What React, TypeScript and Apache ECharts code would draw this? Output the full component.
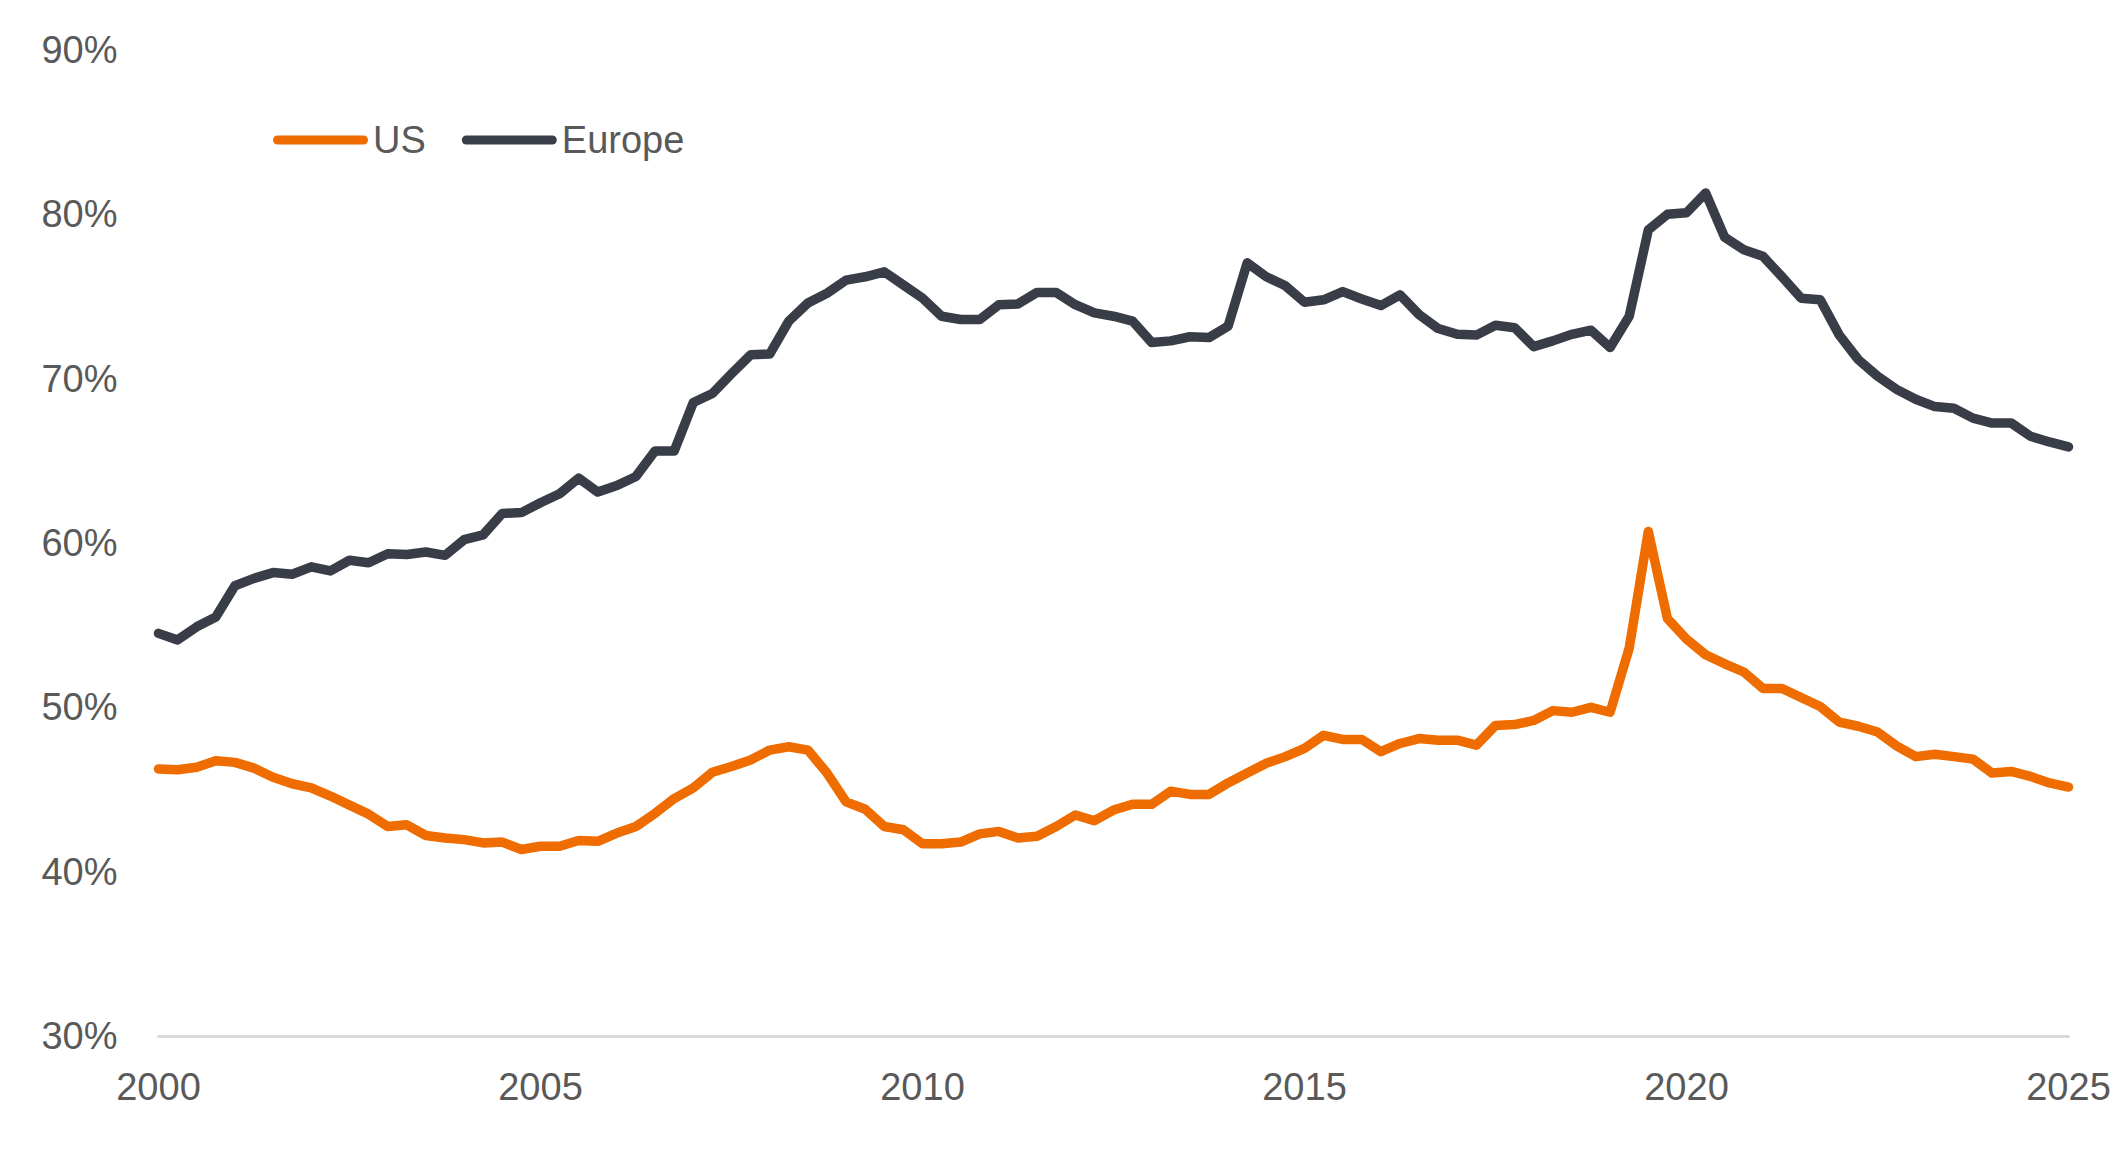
import React, { useEffect, useRef } from "react";
import * as echarts from "echarts";

// Quarterly observations, 2000 Q1 .. 2025 Q1
const START_YEAR = 2000;
const PERIODS_PER_YEAR = 4;

const usValues = [
  46.25, 46.2, 46.35, 46.75, 46.65, 46.3, 45.75, 45.35, 45.1, 44.6,
  44.05, 43.5, 42.75, 42.85, 42.2, 42.05, 41.95, 41.75, 41.8, 41.35,
  41.55, 41.55, 41.9, 41.85, 42.35, 42.75, 43.55, 44.45, 45.1, 46.05,
  46.4, 46.8, 47.4, 47.6, 47.4, 46.0, 44.25, 43.8, 42.75, 42.55,
  41.7, 41.7, 41.8, 42.3, 42.45, 42.05, 42.15, 42.75, 43.45, 43.1,
  43.75, 44.1, 44.1, 44.9, 44.7, 44.7, 45.4, 46.0, 46.6, 47.0,
  47.5, 48.3, 48.05, 48.05, 47.3, 47.8, 48.1, 48.0, 48.0, 47.7,
  48.9, 48.95, 49.2, 49.8, 49.7, 50.0, 49.7, 53.6, 60.7, 55.4,
  54.15, 53.2, 52.65, 52.15, 51.15, 51.15, 50.6, 50.05, 49.1, 48.85,
  48.5, 47.65, 47.0, 47.15, 47.0, 46.85, 46.0, 46.1, 45.8, 45.4,
  45.15,
];

const europeValues = [
  54.5, 54.1, 54.9, 55.5, 57.4, 57.85, 58.2, 58.1, 58.55, 58.3,
  58.95, 58.8, 59.35, 59.3, 59.45, 59.25, 60.2, 60.5, 61.8, 61.85,
  62.45, 63.0, 63.95, 63.1, 63.5, 64.05, 65.6, 65.6, 68.55, 69.1,
  70.3, 71.45, 71.5, 73.5, 74.6, 75.2, 76.0, 76.2, 76.5, 75.7,
  74.9, 73.8, 73.6, 73.6, 74.5, 74.55, 75.25, 75.25, 74.5, 74.0,
  73.8, 73.5, 72.2, 72.3, 72.55, 72.5, 73.2, 77.05, 76.2, 75.65,
  74.65, 74.8, 75.3, 74.85, 74.45, 75.1, 73.9, 73.05, 72.7, 72.65,
  73.25, 73.1, 71.95, 72.3, 72.7, 72.95, 71.9, 73.8, 79.05, 80.0,
  80.1, 81.3, 78.6, 77.85, 77.45, 76.2, 74.9, 74.8, 72.65, 71.15,
  70.15, 69.35, 68.75, 68.3, 68.2, 67.6, 67.3, 67.3, 66.5, 66.15,
  65.85,
];

const seriesNames = ["US", "Europe"];
const xTicks = [2000, 2005, 2010, 2015, 2020, 2025];
const yTicks = [30, 40, 50, 60, 70, 80, 90];

const US_COLOR = "#EF6C00";
const EU_COLOR = "#393D47";
const TEXT_COLOR = "#595959";
const FONT = "'Liberation Sans', Arial, Helvetica, sans-serif";
const FONT_SIZE = 38;

const toPairs = (vals: number[]) =>
  vals.map((v, i) => [START_YEAR + i / PERIODS_PER_YEAR, v]);

const pillIcon =
  "path://M4.5,0 L90.5,0 A4.5,4.5 0 0 1 90.5,9 L4.5,9 A4.5,4.5 0 0 1 4.5,0 Z";

export default function App() {
  const ref = useRef<HTMLDivElement>(null);

  useEffect(() => {
    if (!ref.current) return;
    const chart = echarts.init(ref.current, undefined, { renderer: "svg" });
    chart.setOption({
      animation: false,
      backgroundColor: "#ffffff",
      textStyle: { fontFamily: FONT },
      legend: {
        data: seriesNames,
        left: 268,
        top: 116,
        itemWidth: 95,
        itemHeight: 9,
        itemGap: 36,
        icon: pillIcon,
        textStyle: { color: TEXT_COLOR, fontSize: FONT_SIZE, fontFamily: FONT },
      },
      grid: {
        left: 158.5,
        right: 55.5,
        top: 50,
        bottom: 119,
        containLabel: false,
      },
      xAxis: {
        type: "value",
        min: xTicks[0],
        max: xTicks[xTicks.length - 1],
        interval: 5,
        axisLine: { show: true, lineStyle: { color: "#D9D9D9", width: 3 } },
        axisTick: { show: false },
        splitLine: { show: false },
        axisLabel: {
          color: TEXT_COLOR,
          fontSize: FONT_SIZE,
          fontFamily: FONT,
          margin: 32,
          formatter: (v: number) => String(v),
        },
      },
      yAxis: {
        type: "value",
        min: yTicks[0],
        max: yTicks[yTicks.length - 1],
        interval: 10,
        axisLine: { show: false },
        axisTick: { show: false },
        splitLine: { show: false },
        axisLabel: {
          color: TEXT_COLOR,
          fontSize: FONT_SIZE,
          fontFamily: FONT,
          margin: 41,
          formatter: (v: number) => `${v}%`,
        },
      },
      series: [
        {
          name: seriesNames[0],
          type: "line",
          data: toPairs(usValues),
          showSymbol: false,
          symbol: "none",
          color: US_COLOR,
          lineStyle: { color: US_COLOR, width: 9.5, cap: "round", join: "round" },
          clip: false,
        },
        {
          name: seriesNames[1],
          type: "line",
          data: toPairs(europeValues),
          showSymbol: false,
          symbol: "none",
          color: EU_COLOR,
          lineStyle: { color: EU_COLOR, width: 9.5, cap: "round", join: "round" },
          clip: false,
        },
      ],
    });
    return () => chart.dispose();
  }, []);

  return (
    <div
      ref={ref}
      style={{ position: "absolute", left: 0, top: 0, width: 2124, height: 1155 }}
    />
  );
}
